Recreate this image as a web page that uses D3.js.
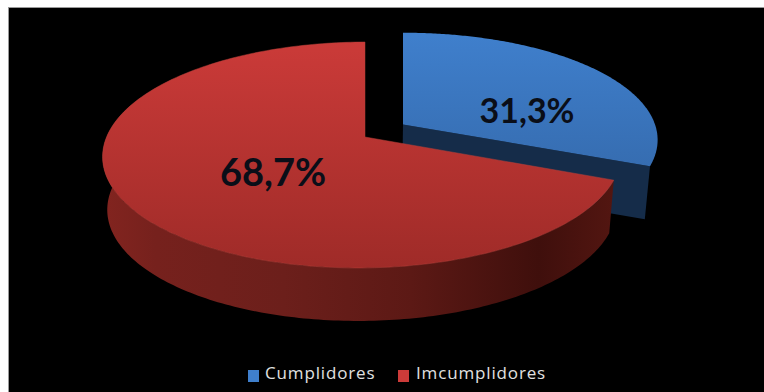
<!DOCTYPE html>
<html>
<head>
<meta charset="utf-8">
<script src="https://cdn.jsdelivr.net/npm/d3@7"></script>
<style>
  html, body { margin: 0; padding: 0; background: #fff; }
  svg { display: block; }
</style>
</head>
<body>
<script>
const categories = ["Cumplidores", "Imcumplidores"];
const values = [31.3, 68.7];
const valueLabels = ["31,3%", "68,7%"];
const topColors = ["#3f7fcc", "#cc3b39"];
const bottomColors = ["#2f5f9c", "#9f2b28"];

const width = 764, height = 392;
const svg = d3.select("body").append("svg").attr("width", width).attr("height", height);
const defs = svg.append("defs");

// Paper and the black chart area
svg.append("rect").attr("width", width).attr("height", height).attr("fill", "#fff");
svg.append("rect").attr("x", 8.5).attr("y", 7.5).attr("width", width - 8).attr("height", height - 7)
  .attr("fill", "#000").attr("stroke", "#9a9a9a").attr("stroke-width", 1);

// Tilted disc: homography from the unit circle to the page
const cx = 365, cy = 137, R = 256, a = -88.3, kV = 0.159, kU = 0.0117;
function project(u, v) {
  const w = 1 + kV * v + kU * u;
  return [cx + R * u / w, (a * v + cy) / w];
}
function rim(angle, shift) {
  const p = project(Math.sin(angle), Math.cos(angle) + shift.v);
  return [cx + (p[0] - cx) * shift.scale + shift.x, p[1]];
}
function centre(shift) {
  const p = project(0, shift.v);
  return [p[0] + shift.x, p[1]];
}
const depth = 53, shrink = 0.982, midX = 362;
const lower = p => [midX + (p[0] - midX) * shrink, p[1] + depth];

const pie = d3.pie().sort(null).value(d => d)(values);
const exploded = [{ x: 38, v: 0.115, scale: 1.012 }, { x: 0, v: 0, scale: 1 }];
const line = d3.line();
const arcPoints = (a0, a1, shift) => d3.range(0, 201).map(i => rim(a0 + (a1 - a0) * i / 200, shift));

// Vertical shading on the top faces
categories.forEach((name, i) => {
  const g = defs.append("linearGradient").attr("id", "face" + i)
    .attr("gradientUnits", "userSpaceOnUse").attr("x1", 0).attr("x2", 0)
    .attr("y1", 35).attr("y2", 268);
  g.append("stop").attr("offset", 0).attr("stop-color", topColors[i]);
  g.append("stop").attr("offset", 1).attr("stop-color", bottomColors[i]);
});

// Horizontal shading on the red outer wall
const wall = defs.append("linearGradient").attr("id", "wallRed")
  .attr("gradientUnits", "userSpaceOnUse").attr("x1", 105).attr("x2", 615).attr("y1", 0).attr("y2", 0);
[[0, "#82241f"], [0.1, "#76211d"], [0.35, "#6c1f1b"], [0.6, "#5c1915"], [0.85, "#3f0f0c"], [1, "#531611"]]
  .forEach(s => wall.append("stop").attr("offset", s[0]).attr("stop-color", s[1]));

// Blue slice: cut wall first, then its face
const blue = pie[0], sBlue = exploded[0];
const blueTip = rim(blue.endAngle, sBlue), blueApex = centre(sBlue);
svg.append("path").attr("fill", "#152c49")
  .attr("d", line([blueApex, blueTip, lower(blueTip), lower(blueApex)]) + "Z");
svg.append("path").attr("fill", "url(#face0)")
  .attr("d", line([blueApex].concat(arcPoints(blue.startAngle, blue.endAngle, sBlue))) + "Z");

// Red slice: outer wall, then face
const red = pie[1], sRed = exploded[1];
const redWallRim = arcPoints(red.startAngle, red.startAngle + (red.endAngle - red.startAngle) * 0.78, sRed);
svg.append("path").attr("fill", "url(#wallRed)")
  .attr("d", line(redWallRim.concat(redWallRim.map(lower).reverse())) + "Z");
svg.append("path").attr("fill", "url(#face1)").attr("stroke", "#b5403a").attr("stroke-width", 0.5)
  .attr("d", line([centre(sRed)].concat(arcPoints(red.startAngle, red.endAngle, sRed))) + "Z");

// Value labels
const labelAnchors = [[527, 123], [273, 186]];
const labelSizes = [34, 38];
svg.selectAll("text.value").data(valueLabels).join("text").attr("class", "value")
  .attr("x", (d, i) => labelAnchors[i][0]).attr("y", (d, i) => labelAnchors[i][1])
  .attr("text-anchor", "middle").attr("font-family", "Lato, sans-serif").attr("font-weight", 700)
  .attr("font-size", (d, i) => labelSizes[i]).attr("fill", "#0a0e18").text(d => d);

// Legend
const legendX = [248, 398], legendText = [265, 416];
categories.forEach((name, i) => {
  svg.append("rect").attr("x", legendX[i]).attr("y", 370).attr("width", 11).attr("height", 12)
    .attr("fill", topColors[i]);
  svg.append("text").attr("x", legendText[i]).attr("y", 379)
    .attr("font-family", "'Open Sans', sans-serif").attr("font-size", 17).attr("letter-spacing", 0.85)
    .attr("fill", "#e0e0e0").text(name);
});
</script>
</body>
</html>
